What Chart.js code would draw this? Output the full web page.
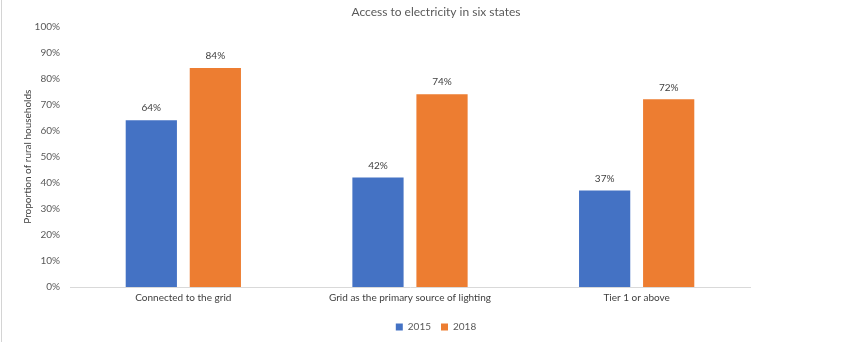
<!DOCTYPE html>
<html>
<head>
<meta charset="utf-8">
<script src="https://cdn.jsdelivr.net/npm/chart.js@4"></script>
<style>
  body { margin: 0; background: #fff; }
  #wrap { position: relative; width: 850px; height: 342px; }
  #edge { position: absolute; left: 1px; top: 0; width: 1px; height: 342px; background: #d4d4d4; }
</style>
</head>
<body>
<div id="wrap">
  <canvas id="myBarChart" width="850" height="342"></canvas>
  <div id="edge"></div>
</div>
<script>
const categories = ['Connected to the grid', 'Grid as the primary source of lighting', 'Tier 1 or above'];
const values2015 = [64, 42, 37];
const values2018 = [84, 74, 72];
const seriesNames = ['2015', '2018'];

const FONT = 'Lato, "Open Sans", sans-serif';

// 막대 위에 값(%) 표시
const valueLabels = {
    id: 'valueLabels',
    afterDatasetsDraw(chart) {
        const ctx = chart.ctx;
        ctx.save();
        ctx.font = '10px ' + FONT;
        ctx.fillStyle = '#404040';
        ctx.textAlign = 'center';
        ctx.textBaseline = 'middle';
        chart.data.datasets.forEach((ds, i) => {
            chart.getDatasetMeta(i).data.forEach((bar, j) => {
                ctx.fillText(ds.data[j] + '%', bar.x, bar.y - 12);
            });
        });
        ctx.restore();
    }
};

const ctx = document.getElementById('myBarChart').getContext('2d');
window.casesBarChart = new Chart(ctx, {
    type: 'bar',
    data: {
        labels: categories,
        datasets: [{
            label: seriesNames[0],
            data: values2015,
            backgroundColor: '#4472C4',
            barPercentage: 0.8,
            categoryPercentage: 0.565
        }, {
            label: seriesNames[1],
            data: values2018,
            backgroundColor: '#ED7D31',
            barPercentage: 0.8,
            categoryPercentage: 0.565
        }]
    },
    options: {
        responsive: false,
        animation: false,
        layout: { padding: { left: 22, right: 0, top: 0, bottom: 0 } },
        plugins: {
            title: {
                display: true,
                text: 'Access to electricity in six states',
                color: '#595959',
                font: { family: FONT, size: 12, weight: 'normal' },
                padding: { top: 5, bottom: 7 }
            },
            legend: {
                position: 'bottom',
                labels: {
                    boxWidth: 7,
                    boxHeight: 7,
                    color: '#595959',
                    font: { family: FONT, size: 10 },
                    padding: 10
                }
            },
            tooltip: { enabled: false }
        },
        scales: {
            y: {
                min: 0,
                max: 100,
                ticks: {
                    stepSize: 10,
                    color: '#595959',
                    padding: 10,
                    font: { family: FONT, size: 10 },
                    callback: v => v + '%'
                },
                grid: { display: false, drawTicks: false },
                border: { display: false },
                title: {
                    display: true,
                    text: 'Proportion of rural households',
                    color: '#404040',
                    font: { family: FONT, size: 10 },
                    padding: 0
                },
                afterFit(scale) { scale.width = 48; }
            },
            // 오른쪽 여백용 빈 축
            y2: {
                position: 'right',
                display: true,
                ticks: { display: false },
                grid: { display: false, drawTicks: false },
                border: { display: false },
                afterFit(scale) { scale.width = 100; }
            },
            x: {
                ticks: {
                    color: '#404040',
                    padding: 5,
                    font: { family: FONT, size: 10 }
                },
                grid: { display: false, drawTicks: false },
                border: { display: true, color: '#d9d9d9' },
                afterFit(scale) { scale.height = 25; }
            }
        }
    },
    plugins: [valueLabels]
});
</script>
</body>
</html>
